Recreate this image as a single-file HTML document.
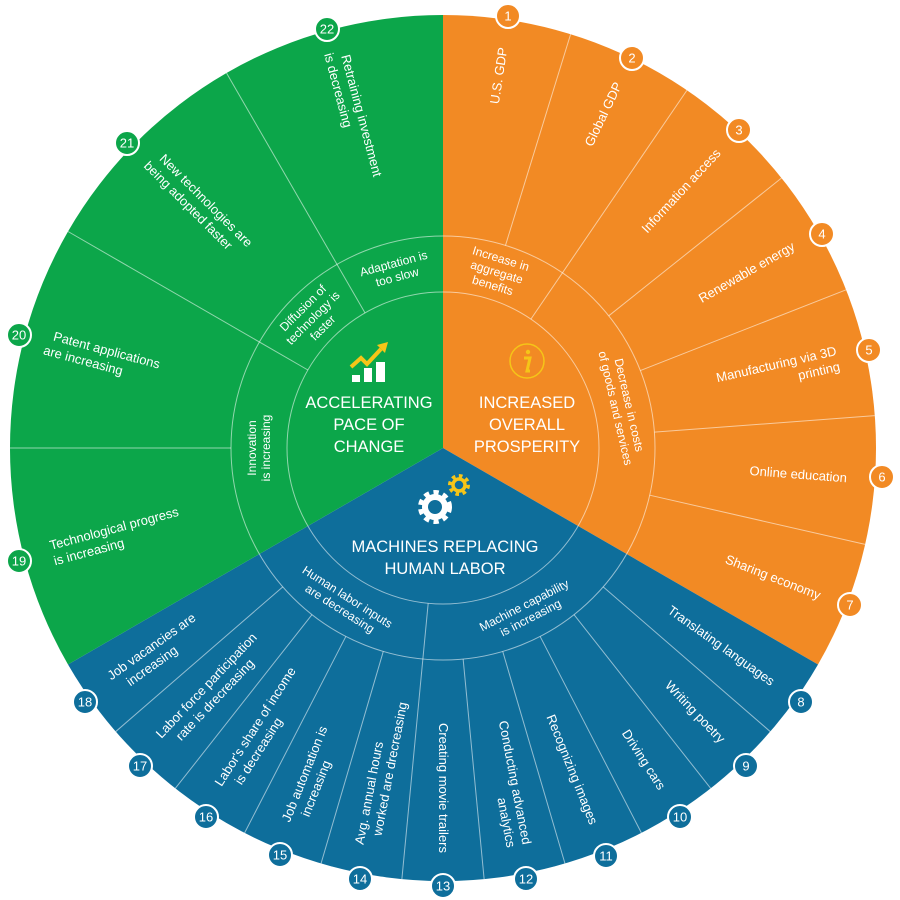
<!DOCTYPE html>
<html><head><meta charset="utf-8"><style>
html,body{margin:0;padding:0;background:#fff;}
svg{display:block;font-family:"Liberation Sans",sans-serif;}
.l{fill:#fff;font-size:13px;}
.m{fill:#fff;font-size:12px;}
.c{fill:#fff;font-size:16.5px;text-anchor:middle;}
.dv{stroke:#fff;stroke-opacity:.55;stroke-width:1;}
.n{fill:#fff;font-size:13px;text-anchor:middle;dominant-baseline:central;}
</style></head><body>
<svg width="900" height="900" viewBox="0 0 900 900">
<path d="M443,448 L443,15 A433,433 0 0 1 818,664.5 Z" fill="#F28A24"/>
<path d="M443,448 L818,664.5 A433,433 0 0 1 68,664.5 Z" fill="#0E6E9B"/>
<path d="M443,448 L68,664.5 A433,433 0 0 1 443,15 Z" fill="#0CA64A"/>
<circle cx="443" cy="448" r="156" fill="none" class="dv"/>
<circle cx="443" cy="448" r="212" fill="none" class="dv"/>
<g transform="translate(443,448)">
<!-- outer dividers r 212-433 -->
<g class="dv">
<line y1="-212" y2="-433" transform="rotate(17.14)"/><line y1="-156" y2="-433" transform="rotate(34.29)"/>
<line y1="-212" y2="-433" transform="rotate(51.43)"/><line y1="-212" y2="-433" transform="rotate(68.57)"/>
<line y1="-212" y2="-433" transform="rotate(85.71)"/><line y1="-212" y2="-433" transform="rotate(102.86)"/>
<line y1="-212" y2="-433" transform="rotate(130.91)"/><line y1="-212" y2="-433" transform="rotate(141.82)"/>
<line y1="-212" y2="-433" transform="rotate(152.73)"/><line y1="-212" y2="-433" transform="rotate(163.64)"/>
<line y1="-212" y2="-433" transform="rotate(174.55)"/><line y1="-156" y2="-433" transform="rotate(185.45)"/>
<line y1="-212" y2="-433" transform="rotate(196.36)"/><line y1="-212" y2="-433" transform="rotate(207.27)"/>
<line y1="-212" y2="-433" transform="rotate(218.18)"/><line y1="-212" y2="-433" transform="rotate(229.09)"/>
<line y1="-212" y2="-433" transform="rotate(270)"/><line y1="-156" y2="-433" transform="rotate(300)"/>
<line y1="-156" y2="-433" transform="rotate(330)"/>
</g>
<!-- outer labels: outward (end anchor) -->
<g class="l" text-anchor="end">
<text transform="rotate(-81.43) translate(405,0)" dy="4">U.S. GDP</text>
<text transform="rotate(-64.29) translate(405,0)" dy="4">Global GDP</text>
<text transform="rotate(-47.14) translate(405,0)" dy="4">Information access</text>
<text transform="rotate(-30) translate(405,0)" dy="4">Renewable energy</text>
<text transform="rotate(-12.86) translate(405,0)"><tspan x="0" dy="-3">Manufacturing via 3D</tspan><tspan x="0" dy="16">printing</tspan></text>
<text transform="rotate(4.29) translate(405,0)" dy="4">Online education</text>
<text transform="rotate(21.43) translate(405,0)" dy="4">Sharing economy</text>
<text transform="rotate(35.45) translate(405,0)" dy="4">Translating languages</text>
<text transform="rotate(46.36) translate(405,0)" dy="4">Writing poetry</text>
<text transform="rotate(57.27) translate(405,0)" dy="4">Driving cars</text>
<text transform="rotate(68.18) translate(405,0)" dy="4">Recognizing images</text>
<text transform="rotate(79.09) translate(405,0)"><tspan x="0" dy="-3">Conducting advanced</tspan><tspan x="0" dy="16">analytics</tspan></text>
<text transform="rotate(90) translate(405,0)" dy="4">Creating movie trailers</text>
</g>
<!-- inward (start anchor) -->
<g class="l" text-anchor="start">
<text transform="rotate(280.91) translate(-405,0)"><tspan x="0" dy="-3">Avg. annual hours</tspan><tspan x="12" dy="16">worked are drecreasing</tspan></text>
<text transform="rotate(291.82) translate(-405,0)"><tspan x="0" dy="-3">Job automation is</tspan><tspan x="12" dy="16">increasing</tspan></text>
<text transform="rotate(302.73) translate(-405,0)"><tspan x="0" dy="-3">Labor's share of income</tspan><tspan x="12" dy="16">is decreasing</tspan></text>
<text transform="rotate(313.64) translate(-405,0)"><tspan x="0" dy="-3">Labor force participation</tspan><tspan x="12" dy="16">rate is drecreasing</tspan></text>
<text transform="rotate(324.55) translate(-405,0)"><tspan x="0" dy="-3">Job vacancies are</tspan><tspan x="12" dy="16">increasing</tspan></text>
<text transform="rotate(345) translate(-405,0)"><tspan x="0" dy="-3">Technological progress</tspan><tspan x="0" dy="16">is increasing</tspan></text>
<text transform="rotate(375) translate(-405,0)"><tspan x="0" dy="-3">Patent applications</tspan><tspan x="-6" dy="16">are increasing</tspan></text>
<text transform="rotate(405) translate(-405,0)"><tspan x="0" dy="-3">New technologies are</tspan><tspan x="-6" dy="16">being adopted faster</tspan></text>
<text transform="rotate(435) translate(-405,0)"><tspan x="0" dy="-3">Retraining investment</tspan><tspan x="-6" dy="16">is decreasing</tspan></text>
</g>
<!-- middle ring labels -->
<g class="m" text-anchor="middle">
<text transform="rotate(17) translate(0,-184)"><tspan x="0" dy="-10">Increase in</tspan><tspan x="0" dy="14">aggregate</tspan><tspan x="0" dy="14">benefits</tspan></text>
<text transform="rotate(77) translate(0,-184)"><tspan x="0" dy="-3">Decrease in costs</tspan><tspan x="0" dy="14">of goods and services</tspan></text>
<text transform="rotate(-27.3) translate(0,184)"><tspan x="0" dy="-3">Machine capability</tspan><tspan x="0" dy="14">is increasing</tspan></text>
<text transform="rotate(32.7) translate(0,184)"><tspan x="0" dy="-3">Human labor inputs</tspan><tspan x="0" dy="14">are decreasing</tspan></text>
<text transform="rotate(-90) translate(0,-184)"><tspan x="0" dy="-3">Innovation</tspan><tspan x="0" dy="14">is increasing</tspan></text>
<text transform="rotate(-45) translate(0,-184)"><tspan x="0" dy="-10">Diffusion of</tspan><tspan x="0" dy="14">technology is</tspan><tspan x="0" dy="14">faster</tspan></text>
<text transform="rotate(-15) translate(0,-184)"><tspan x="0" dy="-3">Adaptation is</tspan><tspan x="0" dy="14">too slow</tspan></text>
</g>
</g>
<!-- number circles -->
<g stroke="#fff" stroke-width="2">
<circle cx="508" cy="16" r="12" fill="#F28A24"/><circle cx="632" cy="58" r="12" fill="#F28A24"/>
<circle cx="739" cy="130" r="12" fill="#F28A24"/><circle cx="822" cy="234" r="12" fill="#F28A24"/>
<circle cx="869" cy="350" r="12" fill="#F28A24"/><circle cx="882" cy="477" r="12" fill="#F28A24"/>
<circle cx="850" cy="605" r="12" fill="#F28A24"/>
<circle cx="801" cy="702" r="12" fill="#0E6E9B"/><circle cx="746" cy="766" r="12" fill="#0E6E9B"/>
<circle cx="680" cy="817" r="12" fill="#0E6E9B"/><circle cx="606" cy="856" r="12" fill="#0E6E9B"/>
<circle cx="526" cy="879" r="12" fill="#0E6E9B"/><circle cx="443" cy="886" r="12" fill="#0E6E9B"/>
<circle cx="360" cy="879" r="12" fill="#0E6E9B"/><circle cx="280" cy="855" r="12" fill="#0E6E9B"/>
<circle cx="206" cy="817" r="12" fill="#0E6E9B"/><circle cx="140" cy="766" r="12" fill="#0E6E9B"/>
<circle cx="85" cy="702" r="12" fill="#0E6E9B"/>
<circle cx="19" cy="561" r="12" fill="#0CA64A"/><circle cx="19" cy="335" r="12" fill="#0CA64A"/>
<circle cx="127" cy="143" r="12" fill="#0CA64A"/><circle cx="327" cy="29" r="12" fill="#0CA64A"/>
</g>
<g class="n">
<text x="508" y="16">1</text><text x="632" y="58">2</text><text x="739" y="130">3</text><text x="822" y="234">4</text>
<text x="869" y="350">5</text><text x="882" y="477">6</text><text x="850" y="605">7</text><text x="801" y="702">8</text>
<text x="746" y="766">9</text><text x="680" y="817">10</text><text x="606" y="856">11</text><text x="526" y="879">12</text>
<text x="443" y="886">13</text><text x="360" y="879">14</text><text x="280" y="855">15</text><text x="206" y="817">16</text>
<text x="140" y="766">17</text><text x="85" y="702">18</text><text x="19" y="561">19</text><text x="19" y="335">20</text>
<text x="127" y="143">21</text><text x="327" y="29">22</text>
</g>
<!-- center titles -->
<text class="c" x="369" y="408">ACCELERATING</text>
<text class="c" x="369" y="430">PACE OF</text>
<text class="c" x="369" y="452">CHANGE</text>
<text class="c" x="527" y="408">INCREASED</text>
<text class="c" x="527" y="430">OVERALL</text>
<text class="c" x="527" y="452">PROSPERITY</text>
<text class="c" x="445" y="552">MACHINES REPLACING</text>
<text class="c" x="445" y="574">HUMAN LABOR</text>
<!-- bar chart icon -->
<rect x="352" y="375" width="8" height="7" fill="#fff"/>
<rect x="364" y="368" width="8" height="14" fill="#fff"/>
<rect x="376" y="362" width="9" height="20" fill="#fff"/>
<polyline points="351,367 361,358 367,364 381,349" fill="none" stroke="#F5C518" stroke-width="4"/>
<polygon points="377,345 388,342 385,353" fill="#F5C518"/>
<!-- info icon -->
<circle cx="527" cy="361" r="17" fill="none" stroke="#F5C518" stroke-width="1.5"/>
<circle cx="528" cy="352" r="2.2" fill="#F5C518"/>
<path d="M524,358 L530,358 L527,371 L530,371" fill="none" stroke="#F5C518" stroke-width="3"/>
<!-- gears -->
<circle cx="435" cy="507" r="14" fill="none" stroke="#fff" stroke-width="6" stroke-dasharray="5 4.2"/>
<circle cx="435" cy="507" r="10" fill="none" stroke="#fff" stroke-width="6"/>
<circle cx="459" cy="485" r="9" fill="none" stroke="#F5C518" stroke-width="4" stroke-dasharray="3.5 3.5"/>
<circle cx="459" cy="485" r="6" fill="none" stroke="#F5C518" stroke-width="3.5"/>
</svg>
</body></html>
